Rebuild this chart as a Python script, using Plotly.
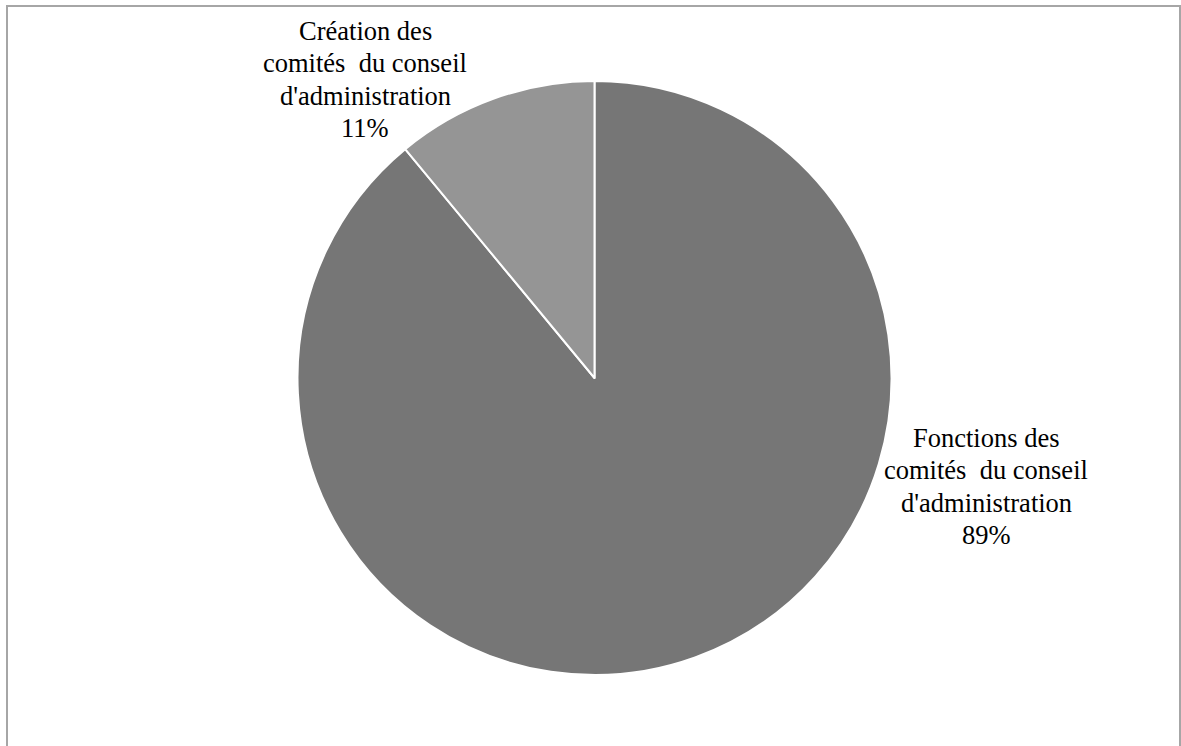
import plotly.graph_objects as go

W, H = 1181, 746

categories = ["Fonctions des comités  du conseil d'administration",
              "Création des comités  du conseil d'administration"]
values = [89, 11]
colors = ["#767676", "#959595"]
label_lines = [
    ["Fonctions des", "comités\u00a0 du conseil", "d'administration"],
    ["Création des", "comités\u00a0 du conseil", "d'administration"],
]

cx, cy, r = 594.5, 378, 297
FONT = "Liberation Serif, Times New Roman, Times, DejaVu Serif, serif"

fig = go.Figure(go.Pie(
    labels=categories, values=values, sort=False, direction="clockwise",
    rotation=0, marker=dict(colors=colors, line=dict(color="white", width=2)),
    textinfo="none", hoverinfo="label+percent", showlegend=False,
    domain=dict(x=[(cx - r) / W, (cx + r) / W], y=[(H - cy - r) / H, (H - cy + r) / H]),
))

# label positions (pixel centres of first line) and line spacing
label_pos = [(986, 438), (365, 31)]
spacing = 32.3
total = sum(values)
annotations = []
for lines, v, (lx, ly) in zip(label_lines, values, label_pos):
    all_lines = lines + [f"{round(100 * v / total)}%"]
    for i, t in enumerate(all_lines):
        annotations.append(dict(
            x=lx / W, y=1 - (ly + i * spacing) / H, xref="paper", yref="paper",
            text=t, showarrow=False, xanchor="center", yanchor="middle",
            font=dict(family=FONT, size=26.5, color="black"),
        ))

fig.update_layout(
    width=W, height=H, margin=dict(l=0, r=0, t=0, b=0),
    paper_bgcolor="white", plot_bgcolor="white",
    font=dict(family=FONT),
    annotations=annotations,
    shapes=[dict(type="rect", xref="paper", yref="paper",
                 x0=7 / W, x1=1180 / W, y0=-0.02, y1=1 - 6 / H,
                 line=dict(color="#a6a6a6", width=2))],
)

fig.write_html("out.html")
